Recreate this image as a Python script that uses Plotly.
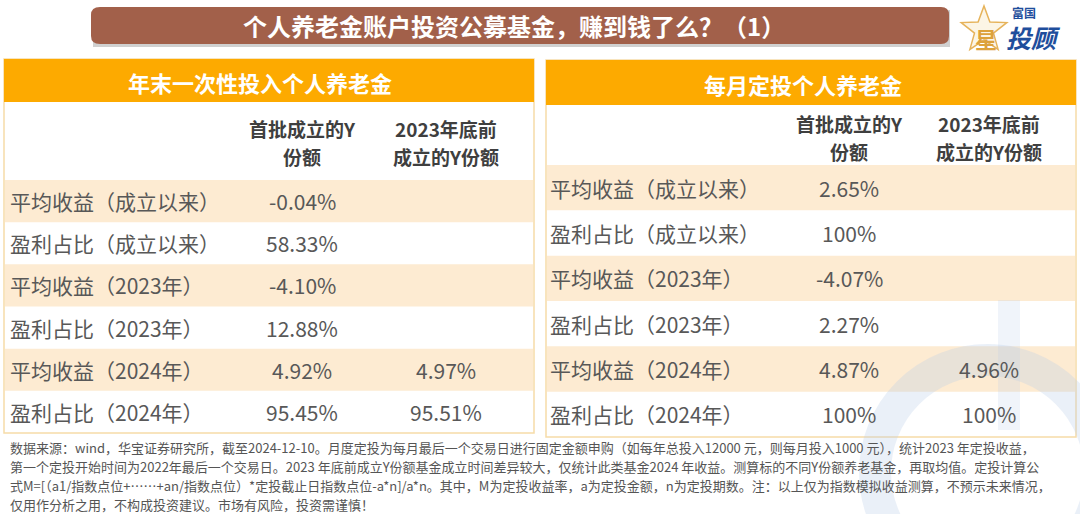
import numpy as np
import plotly.graph_objects as go

title = "个人养老金账户投资公募基金，赚到钱了么？（1）"
left_title = "年末一次性投入个人养老金"
right_title = "每月定投个人养老金"
col_headers = [["首批成立的Y", "份额"], ["2023年底前", "成立的Y份额"]]
row_labels = [
    "平均收益（成立以来）",
    "盈利占比（成立以来）",
    "平均收益（2023年）",
    "盈利占比（2023年）",
    "平均收益（2024年）",
    "盈利占比（2024年）",
]
left_first = ["-0.04%", "58.33%", "-4.10%", "12.88%", "4.92%", "95.45%"]
left_2023 = ["", "", "", "", "4.97%", "95.51%"]
right_first = ["2.65%", "100%", "-4.07%", "2.27%", "4.87%", "100%"]
right_2023 = ["", "", "", "", "4.96%", "100%"]
notes = [
    "数据来源：wind，华宝证券研究所，截至2024-12-10。月度定投为每月最后一个交易日进行固定金额申购（如每年总投入12000 元，则每月投入1000 元），统计2023 年定投收益，",
    "第一个定投开始时间为2022年最后一个交易日。2023 年底前成立Y份额基金成立时间差异较大，仅统计此类基金2024 年收益。测算标的不同Y份额养老基金，再取均值。定投计算公",
    "式M=[（a1/指数点位+……+an/指数点位）*定投截止日指数点位-a*n]/a*n。其中，M为定投收益率，a为定投金额，n为定投期数。注：以上仅为指数模拟收益测算，不预示未来情况，",
    "仅用作分析之用，不构成投资建议。市场有风险，投资需谨慎！",
]

W, H = 1080, 514
FONT = "Noto Sans CJK SC"
ORANGE = "#FDAA00"
SHADE = "#FDEBD2"
BORDER = "#F6DCA8"
TEXT = "#585858"
HDR = "#3F3F3F"

shapes = []
annots = []


def text(x, y, s, size, color, xanchor="center", bold=False):
    annots.append(dict(
        x=x, y=y, xref="x", yref="y", text=f"<b>{s}</b>" if bold else s,
        showarrow=False, xanchor=xanchor, yanchor="middle",
        font=dict(family=FONT, size=size, color=color),
    ))


def rect(x0, y0, x1, y1, fill, line=None, lw=0):
    shapes.append(dict(
        type="rect", xref="x", yref="y", x0=x0, y0=y0, x1=x1, y1=y1,
        fillcolor=fill, line=dict(color=line or fill, width=lw), layer="below",
    ))


# title bar with a soft shadow
rect(93, 10, 950, 47, "rgba(120,120,120,0.35)")
shapes.append(dict(
    type="path", xref="x", yref="y", layer="below", fillcolor="#A2604A",
    line=dict(width=0),
    path="M 100,7 L 941,7 Q 949,7 949,15 L 949,36 Q 949,44 941,44 L 100,44 Q 91,44 91,36 L 91,15 Q 91,7 100,7 Z",
))
text(514, 25, title, 24, "white", bold=True)

# logo top right
ang = np.linspace(-np.pi / 2, 1.5 * np.pi, 11)[:-1]
rad = np.where(np.arange(10) % 2 == 0, 24, 10)
sx = 984 + rad * np.cos(ang)
sy = 30 + rad * np.sin(ang)
star = "M " + " L ".join(f"{a:.1f},{b:.1f}" for a, b in zip(sx, sy)) + " Z"
shapes.append(dict(type="path", xref="x", yref="y", layer="below", path=star,
                   fillcolor="rgba(245,215,150,0.25)", line=dict(color="#E6B35A", width=1.5)))
text(986, 38, "星", 22, "#DDA23C", bold=True)
text(1024, 12, "富国", 12, "#1F4E9C", bold=True)
text(1033, 37, "<i>投顾</i>", 25, "#1F4E9C", bold=True)

tables = [
    dict(x0=4, x1=534, top=59, hdr=102, body=180, bottom=433, title=left_title,
         tx=260, cols=[302, 446], hy=128, first=left_first, second=left_2023, lx=8),
    dict(x0=546, x1=1076, top=60, hdr=105, body=165, bottom=437, title=right_title,
         tx=803, cols=[849, 989], hy=123, first=right_first, second=right_2023, lx=548),
]

for t in tables:
    rect(t["x0"], t["top"], t["x1"], t["bottom"], "white", BORDER, 1.5)
    rect(t["x0"], t["top"], t["x1"], t["hdr"], ORANGE)
    text(t["tx"], (t["top"] + t["hdr"]) / 2 + 1, t["title"], 22, "white", bold=True)
    for c, lines in zip(t["cols"], col_headers):
        for k, s in enumerate(lines):
            text(c, t["hy"] + k * 28, s, 19, HDR, bold=True)
    rh = (t["bottom"] - t["body"]) / len(row_labels)
    for i, lab in enumerate(row_labels):
        y0 = t["body"] + i * rh
        if i % 2 == 0:
            rect(t["x0"] + 1, y0, t["x1"] - 1, y0 + rh, SHADE)
        yc = y0 + rh / 2
        text(t["lx"], yc, lab, 21, TEXT, xanchor="left")
        text(t["cols"][0], yc, t["first"][i], 21, TEXT)
        if t["second"][i]:
            text(t["cols"][1], yc, t["second"][i], 21, TEXT)

# faint watermark
shapes.append(dict(type="circle", xref="x", yref="y", x0=875, x1=1100, y0=360, y1=585,
                   line=dict(color="rgba(185,205,232,0.30)", width=32), layer="above"))
shapes.append(dict(type="rect", xref="x", yref="y", x0=998, x1=1020, y0=300, y1=430,
                   fillcolor="rgba(185,205,232,0.22)", line=dict(width=0), layer="above"))

for i, line in enumerate(notes):
    text(8, 447 + i * 19, line, 13, "#555555", xanchor="left")

fig = go.Figure()
fig.update_layout(
    width=W, height=H, margin=dict(l=0, r=0, t=0, b=0),
    paper_bgcolor="white", plot_bgcolor="white",
    xaxis=dict(range=[0, W], visible=False, fixedrange=True),
    yaxis=dict(range=[H, 0], visible=False, fixedrange=True),
    shapes=shapes, annotations=annots, showlegend=False,
)
fig.write_html("out.html", config={"displayModeBar": False},
               post_script="document.body.style.margin='0px';")
